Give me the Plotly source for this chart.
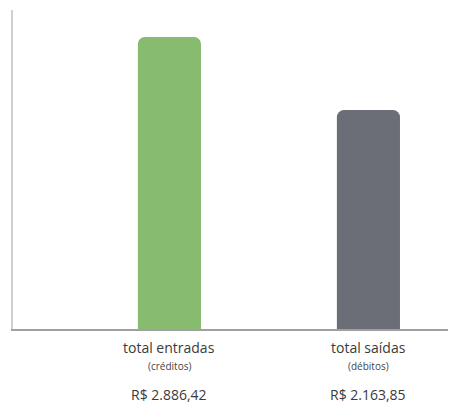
import plotly.graph_objects as go

categories = ["total entradas", "total saídas"]
subtitles = ["(créditos)", "(débitos)"]
values = [2886.42, 2163.85]
value_labels = ["R$ 2.886,42", "R$ 2.163,85"]
colors = ["#87bb70", "#6b6e76"]

fig = go.Figure()
fig.add_trace(go.Bar(
    x=list(range(len(categories))),
    y=values,
    width=0.317,
    marker=dict(color=colors, line=dict(width=0)),
    hoverinfo="skip",
))

font_family = "Open Sans, Noto Sans, sans-serif"
annotations = []
for i, (c, s, v) in enumerate(zip(categories, subtitles, value_labels)):
    annotations.append(dict(x=i, y=0, xref="x", yref="paper", yanchor="middle",
                            yshift=-18, text=c, showarrow=False,
                            font=dict(family=font_family, size=14, color="#3a3a3a")))
    annotations.append(dict(x=i, y=0, xref="x", yref="paper", yanchor="middle",
                            yshift=-37, text=s, showarrow=False,
                            font=dict(family=font_family, size=10, color="#444444")))
    annotations.append(dict(x=i, y=0, xref="x", yref="paper", yanchor="middle",
                            yshift=-65, text=v, showarrow=False,
                            font=dict(family=font_family, size=14, color="#3a3a3a")))

# page body has an 8px margin, so the figure is sized to fill the rest of the window
fig.update_layout(
    width=448, height=399,
    margin=dict(l=5, r=0, t=2, b=78),
    paper_bgcolor="white", plot_bgcolor="white",
    showlegend=False,
    barcornerradius=7,
    annotations=annotations,
    xaxis=dict(range=[-0.786, 1.44], showticklabels=False, showgrid=False,
               zeroline=False, showline=True, linecolor="#a0a0a0", linewidth=1.5,
               ticks="", fixedrange=True),
    yaxis=dict(range=[0, 3153], showticklabels=False, showgrid=False,
               zeroline=False, showline=True, linecolor="#d0d0d0", linewidth=2,
               ticks="", fixedrange=True),
)

fig.write_html("out.html", config={"displayModeBar": False})
